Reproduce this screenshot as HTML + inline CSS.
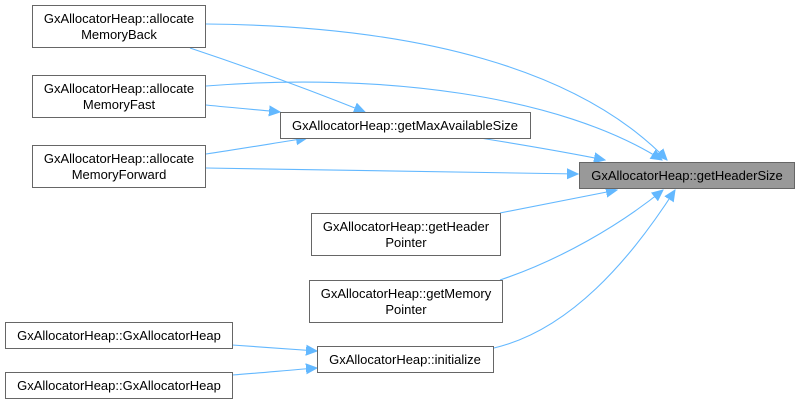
<!DOCTYPE html>
<html><head><style>
body{margin:0;background:#fff;}
svg{display:block;}
text{font-family:"Liberation Sans",Arial,sans-serif;font-size:13px;fill:#000;text-anchor:middle;}
.n{fill:#fff;stroke:#666;stroke-width:1;}
.e{fill:none;stroke:#63b8ff;stroke-width:1.1;}
</style></head><body>
<svg width="799" height="404" viewBox="0 0 799 404">
<defs>
<marker id="a" markerUnits="userSpaceOnUse" markerWidth="12" markerHeight="12" viewBox="0 0 12 12" refX="11" refY="6" orient="auto">
<path d="M0,1 L11,6 L0,11 Z" fill="#63b8ff" stroke="#63b8ff"/>
</marker>
</defs>
<path class="e" marker-end="url(#a)" d="M206,24 C420,26 580,70 667,160"/>
<path class="e" marker-end="url(#a)" d="M206,86 C380,72 560,95 662,160"/>
<path class="e" marker-end="url(#a)" d="M480,138 C530,146 570,153 605,160"/>
<path class="e" marker-end="url(#a)" d="M206,168 C350,170 480,172 578,174"/>
<path class="e" marker-end="url(#a)" d="M500,213 C540,205 580,197 617,190"/>
<path class="e" marker-end="url(#a)" d="M500,280 C560,260 620,225 663,190"/>
<path class="e" marker-end="url(#a)" d="M494,348 C570,330 630,260 675,190"/>
<path class="e" marker-end="url(#a)" d="M190,48 C250,68 310,90 365,112"/>
<path class="e" marker-end="url(#a)" d="M206,105 C235,108 260,110 280,112"/>
<path class="e" marker-end="url(#a)" d="M206,154 C240,149 275,143 307,138"/>
<path class="e" marker-end="url(#a)" d="M232,345 C260,347 290,349 317,351"/>
<path class="e" marker-end="url(#a)" d="M232,375 C260,373 290,370 317,368"/>

<rect class="n" x="32.5" y="5.5" width="173" height="42"/>
<text x="119" y="23">GxAllocatorHeap::allocate</text><text x="119" y="39">MemoryBack</text>
<rect class="n" x="32.5" y="75.5" width="173" height="42"/>
<text x="119" y="93">GxAllocatorHeap::allocate</text><text x="119" y="109">MemoryFast</text>
<rect class="n" x="32.5" y="145.5" width="173" height="42"/>
<text x="119" y="163">GxAllocatorHeap::allocate</text><text x="119" y="179">MemoryForward</text>
<rect class="n" x="280.5" y="112.5" width="250" height="26"/>
<text x="405" y="130">GxAllocatorHeap::getMaxAvailableSize</text>
<rect x="579.5" y="162.5" width="215" height="26" fill="#999" stroke="#666"/>
<text x="687" y="180">GxAllocatorHeap::getHeaderSize</text>
<rect class="n" x="311.5" y="213.5" width="189" height="42"/>
<text x="406" y="231">GxAllocatorHeap::getHeader</text><text x="406" y="247">Pointer</text>
<rect class="n" x="309.5" y="280.5" width="193" height="42"/>
<text x="406" y="298">GxAllocatorHeap::getMemory</text><text x="406" y="314">Pointer</text>
<rect class="n" x="317.5" y="346.5" width="176" height="26"/>
<text x="405" y="364">GxAllocatorHeap::initialize</text>
<rect class="n" x="5.5" y="322.5" width="227" height="26"/>
<text x="119" y="340">GxAllocatorHeap::GxAllocatorHeap</text>
<rect class="n" x="5.5" y="372.5" width="227" height="26"/>
<text x="119" y="390">GxAllocatorHeap::GxAllocatorHeap</text>
</svg>
</body></html>
